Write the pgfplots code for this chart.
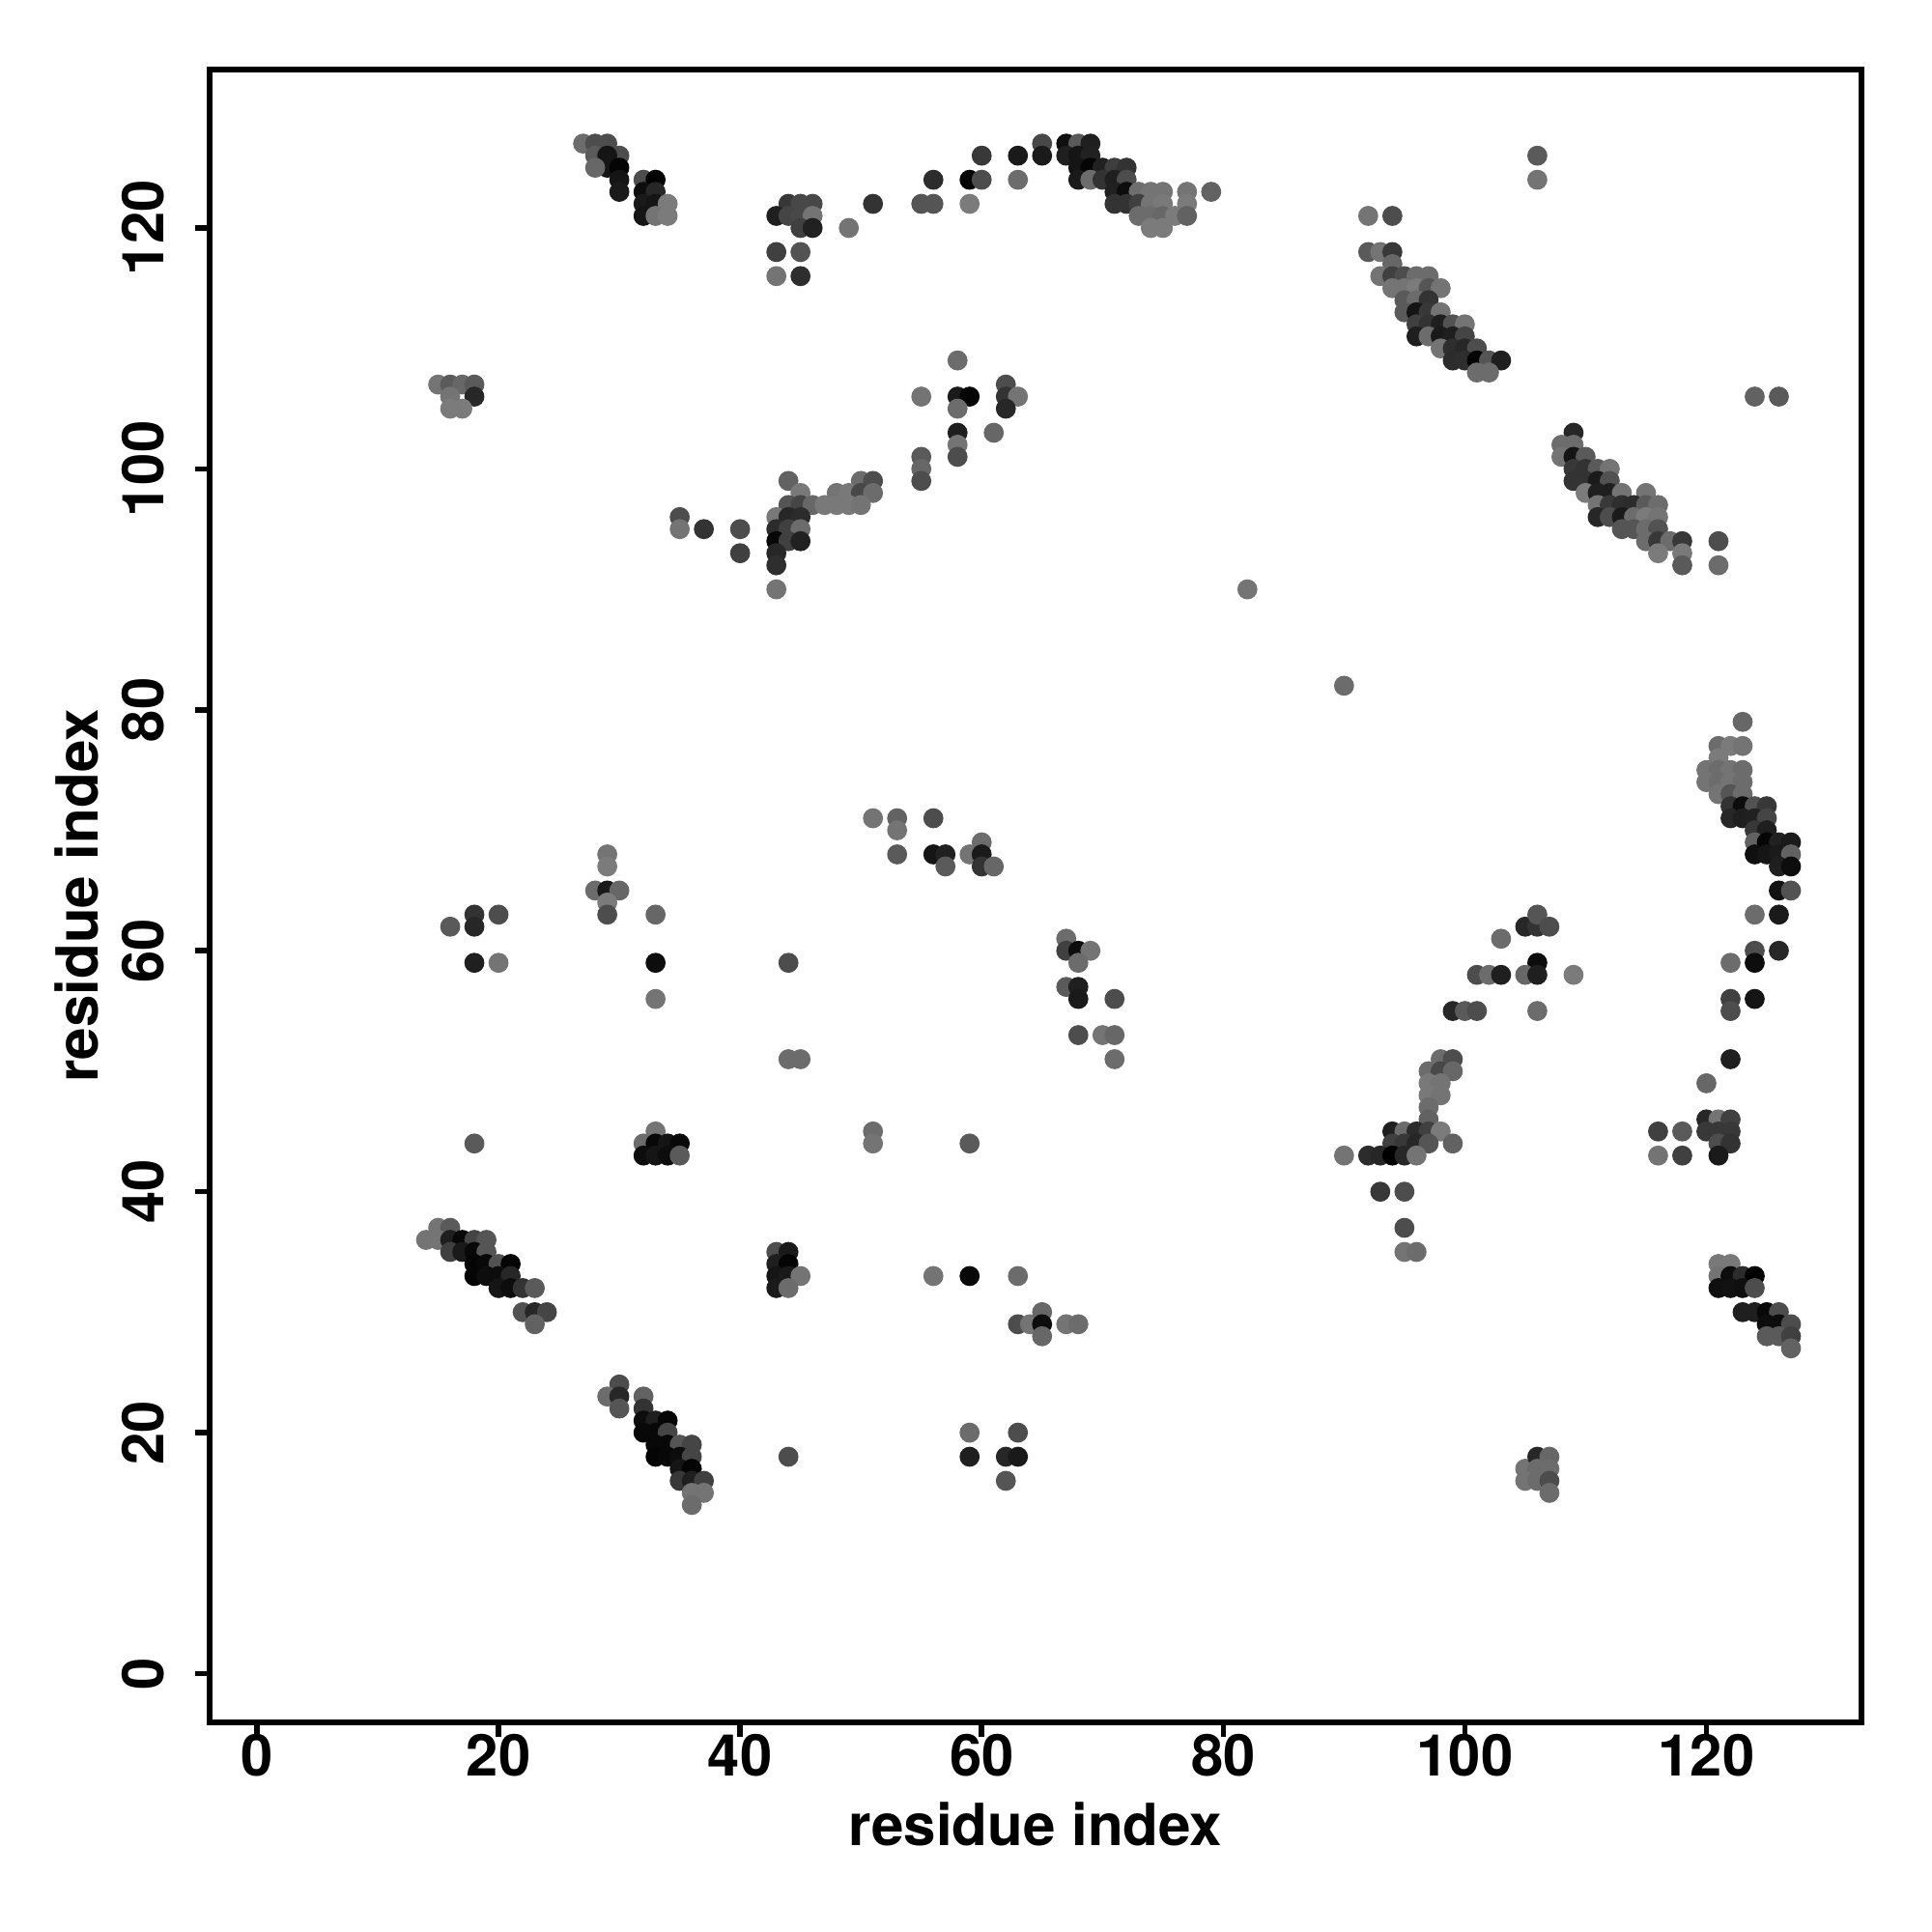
\documentclass[border=0pt]{standalone}
\usepackage{fontspec}
\setmainfont{TeX Gyre Heros}
\usepackage{pgfplots}
\pgfplotsset{compat=1.18}
\begin{document}
\begin{tikzpicture}[x=1cm,y=1cm]
\path[use as bounding box] (0,0) rectangle (20,20);
\begin{axis}[
  at={(2.17cm,2.17cm)}, anchor=south west,
  scale only axis, width=17.10cm, height=17.11cm,
  xmin=-3.92, xmax=132.84, ymin=-4.05, ymax=133.15,
  axis line style={line width=1.8pt, black},
  tick align=outside, tick pos=left,
  major tick length=0.15cm,
  tick style={line width=1.6pt, black},
  xtick={0,20,...,120}, ytick={0,20,...,120},
  /pgf/number format/assume math mode=true,
  every tick label/.append style={font=\fontsize{17}{20}\selectfont\bfseries},
  xticklabel style={anchor=base, yshift=-0.4cm},
  yticklabel style={rotate=90, anchor=base, yshift=0.33cm},
  xlabel={residue index}, ylabel={residue index},
  label style={font=\fontsize{17.1}{20}\selectfont\bfseries},
  xlabel style={at={(axis description cs:0.5,0)}, anchor=base, yshift=-1.27cm},
  ylabel style={at={(axis description cs:0,0.5)}, anchor=base, rotate=0, yshift=1.15cm},
  colormap={bk}{gray(0cm)=(0); gray(1cm)=(1)},
  point meta min=0, point meta max=1,
  clip=false,
]
\addplot[scatter, only marks, mark=*, mark size=2.75pt, scatter src=explicit,
  scatter/use mapped color={draw=mapped color, fill=mapped color}]
 table[row sep=\\, x=x, y=y, meta=g] {
x y g\\
27 127 .42\\ 28 127 .3\\ 29 127 .3\\ 28 126 .35\\ 30 126 .3\\ 29 126 .08\\ 29 125 .08\\ 28 125 .4\\ 30 125 .02\\ 30 124 .08\\ 30 123 .1\\
32 124 .3\\ 33 124 0\\ 32 123 .05\\ 33 123 .15\\ 32 122 .1\\ 33 122 .08\\ 34 122 .48\\ 32 121 .08\\ 33 121 .45\\ 34 121 .48\\
44 122 .22\\ 45 122 .28\\ 46 122 .28\\ 43 121 .12\\ 44 121 .27\\ 45 121 .28\\ 46 121 .45\\ 45 120 .25\\ 46 120 .13\\ 43 118 .25\\ 45 118 .32\\ 43 116 .45\\ 45 116 .18\\ 49 120 .45\\
65 127 .28\\ 65 126 .1\\ 60 126 .22\\ 63 126 .1\\ 56 124 .17\\ 59 124 .02\\ 60 124 .3\\ 63 124 .42\\ 55 122 .33\\ 56 122 .33\\ 59 122 .48\\ 51 122 .2\\
67 127 .06\\ 68 127 .35\\ 69 127 .12\\ 67 126 .12\\ 68 126 .08\\ 69 126 .13\\
68 125 .08\\ 69 125 .02\\ 70 125 .13\\ 71 125 .24\\ 72 125 .2\\
68 124 .1\\ 69 124 .42\\ 70 124 .2\\ 71 124 .12\\ 72 124 .3\\
71 123 .13\\ 72 123 .05\\ 73 123 .43\\ 74 123 .45\\ 75 123 .45\\ 77 123 .45\\ 79 123 .38\\
71 122 .2\\ 72 122 .2\\ 73 122 .25\\ 74 122 .45\\ 75 122 .47\\ 77 122 .48\\
73 121 .42\\ 74 121 .42\\ 75 121 .4\\ 76 121 .48\\ 77 121 .38\\ 74 120 .48\\ 75 120 .48\\
92 121 .45\\ 94 121 .3\\ 92 118 .35\\ 93 118 .45\\ 94 118 .22\\ 94 117 .4\\
93 116 .45\\ 94 116 .25\\ 95 116 .3\\ 96 116 .42\\ 97 116 .42\\
94 115 .45\\ 95 115 .45\\ 96 115 .48\\ 97 115 .33\\ 98 115 .45\\
95 114 .35\\ 96 114 .42\\ 97 114 .2\\ 95 113 .35\\ 96 113 .08\\ 97 113 .22\\ 98 113 .45\\
96 112 .25\\ 97 112 .2\\ 98 112 .12\\ 99 112 .32\\ 100 112 .45\\
96 111 .12\\ 97 111 .42\\ 98 111 .1\\ 99 111 .12\\ 100 111 .27\\
98 110 .45\\ 99 110 .18\\ 100 110 .15\\ 101 110 .3\\
99 109 .17\\ 100 109 .18\\ 101 109 .02\\ 102 109 .33\\ 103 109 .12\\ 101 108 .42\\ 102 108 .42\\
109 103 .15\\ 108 102 .42\\ 109 102 .42\\ 108 101 .45\\ 109 101 .08\\ 110 101 .35\\
109 100 .22\\ 110 100 .2\\ 111 100 .35\\ 112 100 .45\\ 109 99 .2\\ 110 99 .2\\ 111 99 .1\\ 112 99 .32\\
110 98 .48\\ 111 98 .12\\ 112 98 .12\\ 113 98 .45\\ 115 98 .45\\
111 97 .45\\ 112 97 .22\\ 113 97 .18\\ 114 97 .17\\ 115 97 .35\\ 116 97 .42\\
111 96 .15\\ 112 96 .3\\ 113 96 .1\\ 114 96 .42\\ 115 96 .48\\ 116 96 .45\\
113 95 .33\\ 114 95 .33\\ 115 95 .42\\ 116 95 .32\\
115 94 .42\\ 116 94 .22\\ 117 94 .42\\ 118 94 .22\\ 121 94 .3\\ 116 93 .48\\ 118 93 .47\\ 118 92 .35\\ 121 92 .42\\
123 79 .4\\ 121 77 .42\\ 122 77 .48\\ 123 77 .45\\ 121 76 .48\\
120 75 .45\\ 121 75 .42\\ 122 75 .45\\ 123 75 .42\\ 120 74 .45\\ 121 74 .42\\ 122 74 .45\\ 123 74 .42\\
121 73 .45\\ 122 73 .33\\ 123 73 .42\\ 122 72 .2\\ 123 72 .05\\ 124 72 .32\\ 125 72 .22\\
122 71 .15\\ 123 71 .12\\ 124 71 .13\\ 125 71 .27\\ 124 70 .22\\ 125 70 .12\\
124 69 .38\\ 125 69 .02\\ 126 69 .13\\ 127 69 .1\\ 124 68 .06\\ 125 68 .08\\ 126 68 .1\\ 127 68 .38\\
126 67 .12\\ 127 67 .05\\ 126 65 .07\\ 127 65 .32\\ 124 63 .42\\ 126 63 .1\\
15 37 .45\\ 16 37 .35\\ 14 36 .45\\ 15 36 .45\\ 16 36 .12\\ 17 36 .03\\ 18 36 .27\\ 19 36 .33\\
16 35 .25\\ 17 35 .1\\ 18 35 .03\\ 19 35 .33\\ 18 34 .02\\ 19 34 .03\\ 20 34 .32\\ 21 34 .02\\
18 33 .02\\ 19 33 .05\\ 20 33 .05\\ 21 33 .15\\ 20 32 .08\\ 21 32 .05\\ 22 32 .2\\ 23 32 .35\\
22 30 .32\\ 23 30 .15\\ 24 30 .27\\ 23 29 .38\\
30 24 .3\\ 29 23 .42\\ 30 23 .15\\ 32 23 .38\\ 30 22 .33\\ 32 22 .2\\ 32 21 .05\\ 33 21 .12\\ 34 21 .02\\
32 20 .03\\ 33 20 .03\\ 34 20 .27\\ 33 19 .03\\ 34 19 .03\\ 35 19 .33\\ 36 19 .27\\
33 18 .02\\ 34 18 .03\\ 35 18 .05\\ 36 18 .27\\ 35 17 .08\\ 36 17 .02\\
35 16 .22\\ 36 16 .12\\ 37 16 .25\\ 36 15 .45\\ 37 15 .45\\ 36 14 .42\\
98 51 .42\\ 99 51 .3\\ 97 50 .42\\ 98 50 .28\\ 99 50 .4\\ 97 49 .47\\ 98 49 .45\\ 97 48 .47\\ 98 48 .45\\ 97 47 .42\\ 97 46 .38\\
94 45 .12\\ 95 45 .42\\ 96 45 .17\\ 97 45 .25\\ 98 45 .48\\ 94 44 .25\\ 95 44 .22\\ 96 44 .15\\ 97 44 .33\\ 99 44 .38\\
90 43 .45\\ 92 43 .17\\ 93 43 .15\\ 94 43 0\\ 95 43 .15\\ 96 43 .45\\ 93 40 .22\\ 95 40 .3\\
44 99 .38\\ 50 99 .42\\ 51 99 .3\\ 45 98 .47\\ 48 98 .45\\ 49 98 .47\\ 50 98 .28\\ 51 98 .42\\
44 97 .33\\ 45 97 .27\\ 46 97 .4\\ 47 97 .47\\ 48 97 .47\\ 49 97 .47\\ 50 97 .45\\
43 96 .47\\ 44 96 .15\\ 45 96 .17\\ 43 95 .17\\ 44 95 .25\\ 45 95 .42\\ 43 94 .03\\ 44 94 .25\\ 45 94 .13\\ 43 93 .15\\ 43 92 .18\\ 43 90 .45\\
121 34 .47\\ 122 34 .47\\ 121 33 .45\\ 122 33 .05\\ 123 33 .17\\ 124 33 0\\ 121 32 .06\\ 122 32 .07\\ 123 32 .06\\ 124 32 .3\\
123 30 .12\\ 124 30 .12\\ 125 30 .03\\ 126 30 .3\\ 125 29 .05\\ 126 29 .05\\ 127 29 .3\\ 125 28 .35\\ 126 28 .35\\ 127 28 .25\\ 127 27 .38\\
120 46 .15\\ 121 46 .45\\ 122 46 .25\\ 120 45 .22\\ 121 45 .22\\ 122 45 .22\\ 121 44 .3\\ 122 44 .2\\ 121 43 .1\\
116 45 .25\\ 116 43 .45\\ 118 45 .35\\ 118 43 .25\\
33 45 .45\\ 32 44 .42\\ 33 44 .03\\ 34 44 .08\\ 35 44 .03\\ 32 43 .05\\ 33 43 .08\\ 34 43 .05\\ 35 43 .35\\
15 107 .45\\ 16 107 .35\\ 17 107 .4\\ 18 107 .35\\ 16 106 .45\\ 18 106 .15\\ 16 105 .48\\ 17 105 .48\\
35 96 .3\\ 35 95 .45\\ 37 95 .2\\ 40 95 .3\\ 40 93 .25\\
55 106 .45\\ 58 109 .42\\ 58 106 .1\\ 59 106 .02\\ 58 105 .42\\ 58 103 .12\\ 58 102 .45\\ 58 101 .3\\ 55 101 .35\\ 55 100 .4\\ 55 99 .3\\
62 107 .3\\ 62 106 .2\\ 63 106 .45\\ 62 105 .15\\ 61 103 .4\\
106 126 .35\\ 106 124 .45\\ 124 106 .38\\ 126 106 .35\\ 82 90 .45\\ 90 82 .42\\
95 37 .3\\ 95 35 .45\\ 96 35 .42\\
16 62 .35\\ 18 63 .2\\ 18 62 .15\\ 20 63 .3\\ 18 59 .12\\ 20 59 .45\\
29 68 .45\\ 29 67 .48\\ 28 65 .42\\ 29 65 .1\\ 30 65 .4\\ 29 64 .48\\ 29 63 .3\\ 33 63 .4\\ 33 59 .05\\ 33 56 .45\\
44 59 .3\\ 44 51 .42\\ 45 51 .42\\ 18 44 .35\\
51 71 .45\\ 53 71 .38\\ 53 70 .45\\ 53 68 .35\\ 56 71 .3\\ 56 68 .08\\ 57 68 .13\\ 57 67 .35\\ 59 68 .45\\ 60 69 .42\\ 60 68 .1\\ 60 67 .2\\ 61 67 .4\\
67 61 .42\\ 67 60 .25\\ 68 60 .05\\ 69 60 .45\\ 68 59 .42\\ 67 57 .35\\ 68 57 .12\\ 68 56 .1\\ 71 56 .3\\ 68 53 .3\\ 70 53 .45\\ 71 53 .4\\ 71 51 .42\\
51 45 .42\\ 51 44 .45\\ 59 44 .35\\
43 35 .3\\ 44 35 .1\\ 43 34 .12\\ 44 34 .02\\ 43 33 .08\\ 44 33 .1\\ 45 33 .45\\ 43 32 .1\\ 44 32 .42\\
56 33 .45\\ 59 33 .03\\ 63 33 .42\\ 63 29 .3\\ 64 29 .45\\ 65 30 .4\\ 65 29 .05\\ 65 28 .4\\ 67 29 .45\\ 68 29 .42\\
44 18 .3\\ 59 20 .42\\ 59 18 .12\\ 62 18 .15\\ 63 18 .1\\ 63 20 .3\\ 62 16 .33\\
105 17 .45\\ 106 18 .15\\ 107 18 .4\\ 106 17 .42\\ 105 16 .45\\ 106 16 .42\\ 107 17 .42\\ 107 16 .3\\ 107 15 .42\\
103 61 .42\\ 105 62 .15\\ 106 62 .2\\ 106 63 .33\\ 107 62 .3\\ 106 59 .05\\ 105 58 .4\\ 106 58 .12\\ 109 58 .48\\ 106 55 .42\\
101 58 .3\\ 102 58 .42\\ 103 58 .12\\ 99 55 .15\\ 100 55 .35\\ 101 55 .3\\
122 59 .42\\ 124 60 .3\\ 124 59 .05\\ 126 60 .15\\ 122 56 .25\\ 124 56 .08\\ 122 55 .3\\ 122 51 .12\\ 120 49 .4\\
};
\end{axis}
\end{tikzpicture}
\end{document}
